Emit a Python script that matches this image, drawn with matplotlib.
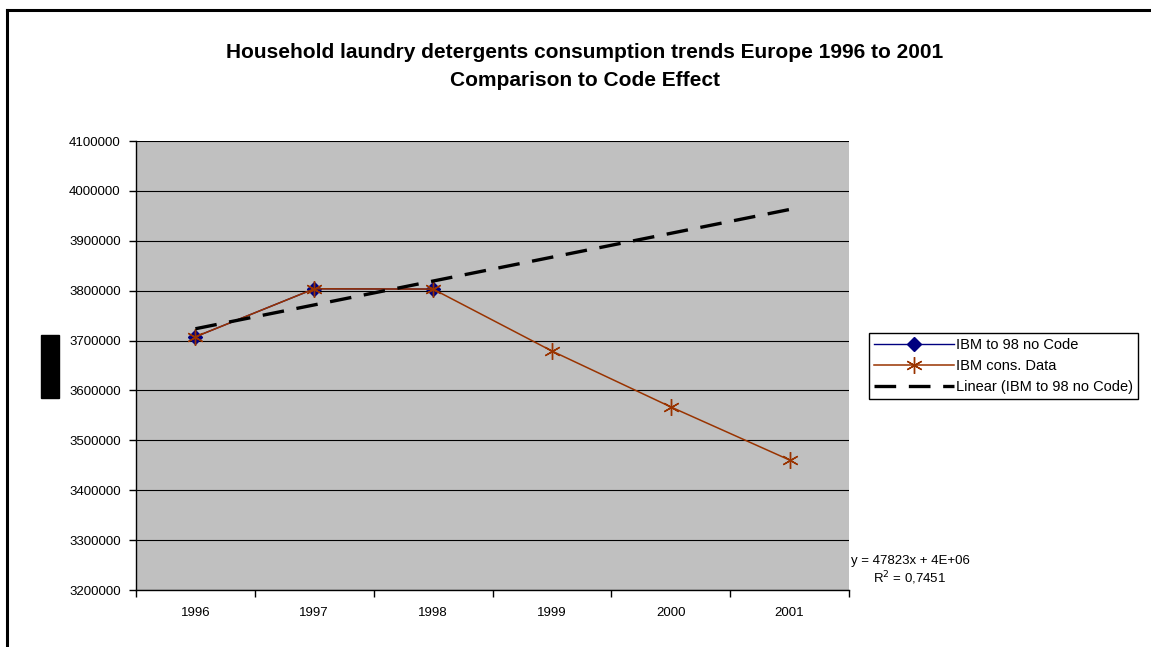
import numpy as np
import matplotlib.pyplot as plt
from matplotlib.lines import Line2D
from matplotlib.patches import Rectangle

plt.rcParams['font.family'] = ['Liberation Sans', 'DejaVu Sans']

years = ['1996', '1997', '1998', '1999', '2000', '2001']
no_code = [3707500, 3803771, 3803146]
cons_data = [3707500, 3803771, 3803146, 3679000, 3567000, 3460500]

x = np.arange(1, len(years) + 1)
x_fit = x[:len(no_code)]

# linear trend through the no-code series, extended over all years
slope, intercept = np.polyfit(x_fit, no_code, 1)
pred = slope * x_fit + intercept
r2 = 1 - np.sum((np.array(no_code) - pred) ** 2) / np.sum((np.array(no_code) - np.mean(no_code)) ** 2)
trend = slope * x + intercept

W, H = 1151, 647
fig = plt.figure(figsize=(W / 100, H / 100), dpi=100)
ax = fig.add_axes([136 / W, 1 - 590 / H, 713 / W, 449 / H])
ax.set_facecolor('#C0C0C0')

ax.plot(x_fit, no_code, color='#000080', linewidth=1, marker='D', markersize=7,
        label='IBM to 98 no Code', zorder=3)
ax.plot(x, cons_data, color='#993300', linewidth=1.1, marker=(6, 2, 0), markersize=12,
        markeredgewidth=1, label='IBM cons. Data', zorder=4)
ax.plot(x, trend, color='black', linewidth=2.4, dashes=(6.5, 3.8),
        label='Linear (IBM to 98 no Code)', zorder=5)

ax.set_xlim(0.5, 6.5)
ax.set_ylim(3200000, 4100000)
ax.set_yticks(np.arange(3200000, 4100001, 100000))
ax.set_yticklabels([str(v) for v in range(3200000, 4100001, 100000)])
ax.set_xticks(x)
ax.set_xticklabels(years)
ax.set_xticks(np.arange(0.5, 6.6, 1), minor=True)
ax.tick_params(axis='x', which='major', length=0, pad=12, labelsize=9.5)
ax.tick_params(axis='x', which='minor', length=5, width=1, direction='out')
ax.tick_params(axis='y', length=5, width=1, direction='out', labelsize=9.5, pad=6)
ax.yaxis.grid(True, color='black', linewidth=0.8)
ax.set_axisbelow(True)
for s in ['top', 'right']:
    ax.spines[s].set_visible(False)
for s in ['left', 'bottom']:
    ax.spines[s].set_linewidth(1)

fig.text(585 / W, 1 - 52 / H,
         'Household laundry detergents consumption trends Europe 1996 to 2001',
         ha='center', va='center', fontsize=15, fontweight='bold')
fig.text(585 / W, 1 - 80 / H, 'Comparison to Code Effect',
         ha='center', va='center', fontsize=15, fontweight='bold')

leg = ax.legend(loc='center left', bbox_to_anchor=(869 / W, 1 - 366 / H),
                bbox_transform=fig.transFigure, borderaxespad=0, fontsize=10.5,
                frameon=True, fancybox=False, edgecolor='black', framealpha=1,
                handlelength=5.5, handletextpad=0.1, labelspacing=0.5, borderpad=0.35)
leg.get_frame().set_linewidth(1)

fig.text(910 / W, 1 - 561 / H, f'y = {slope:.0f}x + {intercept:.0E}',
         ha='center', va='center', fontsize=9.5)
fig.text(910 / W, 1 - 578 / H, f'R$^2$ = {r2:.4f}'.replace('.', ','),
         ha='center', va='center', fontsize=9.5)

# outer frame on the top and left edges, plus the axis title block
fig.add_artist(Line2D([7 / W, 7 / W], [0, 1 - 9.5 / H], color='black', linewidth=2.2))
fig.add_artist(Line2D([7 / W, 1], [1 - 9.5 / H, 1 - 9.5 / H], color='black', linewidth=2.2))
fig.add_artist(Rectangle((41 / W, 1 - 398 / H), 18 / W, 63 / H, color='black',
                         transform=fig.transFigure))

fig.savefig('out.png', dpi=100)
